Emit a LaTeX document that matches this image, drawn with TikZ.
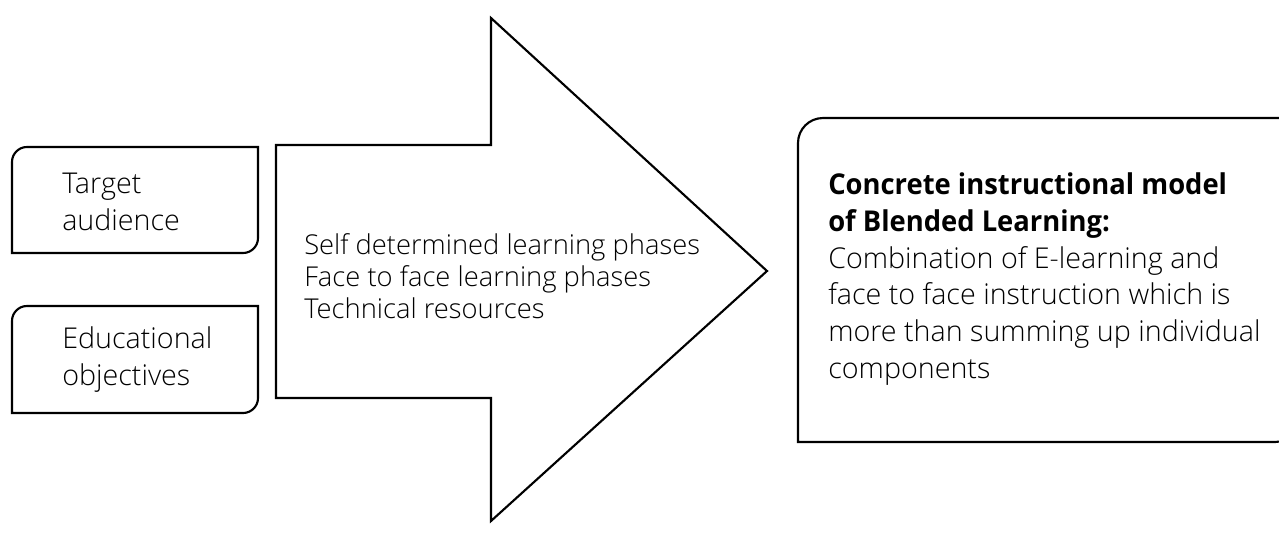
\documentclass[tikz,border=0pt]{standalone}
\usepackage{fontspec}
\setmainfont{Open Sans}[UprightFont=* Light, BoldFont=* Bold, BoldFeatures={FakeStretch=0.955}]
\begin{document}
\begin{tikzpicture}[x=0.75pt,y=-0.75pt,
  outline/.style={draw=black,line width=1.6pt,line join=miter},
  label/.style={anchor=base west,inner sep=0pt,align=left,font=\fontsize{21.5}{27.5}\selectfont}]
\useasboundingbox (0,0) rectangle (1279,539);
\clip (0,0) rectangle (1279,539);
% input boxes, rounded at top left and bottom right
\draw[outline] (12,253) -- (12,162) .. controls (12,153.7) and (18.7,147) .. (27,147) -- (258,147)
  -- (258,238) .. controls (258,246.3) and (251.3,253) .. (243,253) -- cycle;
\draw[outline] (12,413) -- (12,321) .. controls (12,312.7) and (18.7,306) .. (27,306) -- (258,306)
  -- (258,398) .. controls (258,406.3) and (251.3,413) .. (243,413) -- cycle;
% block arrow
\draw[outline] (276,145) -- (491,145) -- (491,18) -- (767,271) -- (491,521)
  -- (491,398) -- (276,398) -- cycle;
% result box
\draw[outline] (798,442) -- (798,143) .. controls (798,129.2) and (809.2,118) .. (823,118) -- (1300,118)
  -- (1300,417) .. controls (1300,430.8) and (1288.8,442) .. (1275,442) -- cycle;
% texts (anchored at the baseline of their last line)
\node[label] (t1) at (62,230) {Target\\audience};
\node[label] (t2) at (62,385) {Educational\\objectives};
\node[label,font=\fontsize{20.5}{24}\selectfont] (t3) at (304,318)
  {Self determined learning phases\\Face to face learning phases\\Technical resources};
\node[label] (t4) at (828,378)
  {\textbf{Concrete instructional model}\\\textbf{of Blended Learning:}\\Combination of E-learning and\\face to face instruction which is\\more than summing up individual\\components};
\end{tikzpicture}
\end{document}
